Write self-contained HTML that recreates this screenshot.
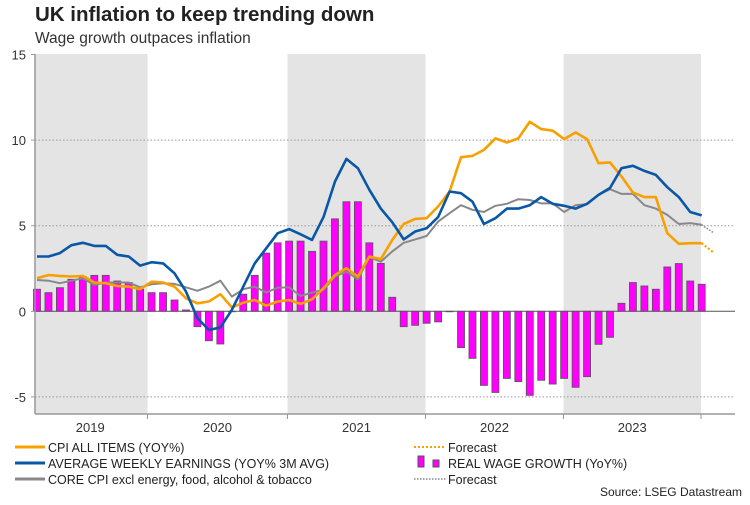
<!DOCTYPE html>
<html><head><meta charset="utf-8"><style>
body{margin:0;background:#fff;width:750px;height:500px;overflow:hidden;font-family:"Liberation Sans",sans-serif}
svg text{font-family:"Liberation Sans",sans-serif}
</style></head><body>
<svg id="chart" width="750" height="500" viewBox="0 0 750 500">
<text x="35" y="21" font-size="20.5" font-weight="bold" fill="#222">UK inflation to keep trending down</text>
<text x="35" y="43" font-size="15.5" fill="#333">Wage growth outpaces inflation</text>
<g id="bands"></g><g id="grid"></g><g id="bars"></g><g id="lines"></g><g id="axes"></g>
<g font-size="12.5" fill="#222">
<line x1="15" y1="447" x2="45" y2="447" stroke="#f7a000" stroke-width="3"/><text x="48" y="452">CPI ALL ITEMS (YOY%)</text>
<line x1="15" y1="463" x2="45" y2="463" stroke="#0a57a6" stroke-width="3"/><text x="48" y="468">AVERAGE WEEKLY EARNINGS (YOY% 3M AVG)</text>
<line x1="15" y1="479" x2="45" y2="479" stroke="#888" stroke-width="3"/><text x="48" y="484">CORE CPI excl energy, food, alcohol &amp; tobacco</text>
<line x1="414" y1="447" x2="446" y2="447" stroke="#f7a000" stroke-width="2" stroke-dasharray="2,2"/><text x="448" y="452">Forecast</text>
<rect x="418" y="456" width="6" height="11" fill="#f0f" stroke="#555"/><rect x="433" y="460" width="6" height="7" fill="#f0f" stroke="#555"/><text x="448" y="468">REAL WAGE GROWTH (YoY%)</text>
<line x1="414" y1="479" x2="446" y2="479" stroke="#888" stroke-width="1.5" stroke-dasharray="1.5,1.5"/><text x="448" y="484">Forecast</text>
</g>
<text x="742" y="496" font-size="12" fill="#222" text-anchor="end">Source: LSEG Datastream</text>
</svg>
<script>
const cpi=[1.93,2.12,2.07,2.03,2.07,1.68,1.64,1.48,1.44,1.29,1.73,1.68,1.44,0.76,0.47,0.57,1.0,0.23,0.5,0.66,0.33,0.57,0.66,0.43,0.7,1.35,2.12,2.51,2.03,3.2,3.05,4.17,5.1,5.4,5.44,6.12,7.0,9.0,9.08,9.43,10.1,9.86,10.1,11.07,10.64,10.55,10.06,10.45,10.06,8.65,8.7,7.88,6.94,6.67,6.67,4.56,3.94,3.98,3.98];
const cpiForecast=[3.98,3.45];
const awe=[3.2,3.2,3.4,3.86,4.0,3.82,3.82,3.3,3.2,2.67,2.87,2.8,2.22,1.15,-0.4,-1.09,-0.94,0.08,1.44,2.8,3.68,4.56,4.8,4.5,4.17,5.5,7.58,8.9,8.36,7.1,6.0,5.2,4.2,4.66,4.85,5.5,7.0,6.9,6.4,5.1,5.44,6.0,6.0,6.2,6.67,6.28,6.16,6.0,6.28,6.8,7.2,8.36,8.5,8.2,7.97,7.25,6.67,5.8,5.6];
const core=[1.83,1.79,1.64,1.79,1.93,1.54,1.68,1.68,1.68,1.4,1.58,1.64,1.6,1.4,1.2,1.44,1.79,0.86,1.29,1.44,1.1,1.38,1.4,0.9,1.09,1.25,2.03,2.32,1.87,3.16,2.9,3.5,4.0,4.2,4.4,5.24,5.73,6.2,5.93,5.8,6.16,6.28,6.55,6.5,6.3,6.3,5.8,6.2,6.26,6.8,7.13,6.86,6.86,6.2,6.0,5.63,5.1,5.15,5.05];
const coreForecast=[5.05,4.6];
const realWage=[1.29,1.09,1.38,1.87,2.03,2.1,2.1,1.77,1.68,1.29,1.09,1.09,0.66,0.08,-0.9,-1.72,-1.91,0,1.0,2.1,3.4,4.0,4.1,4.1,3.5,4.1,5.4,6.4,6.4,4.0,2.8,0.82,-0.9,-0.82,-0.7,-0.62,0,-2.12,-2.75,-4.33,-4.74,-3.92,-4.11,-4.91,-4.03,-4.25,-3.92,-4.44,-3.82,-1.93,-1.52,0.47,1.68,1.48,1.29,2.59,2.79,1.77,1.58];
const yTicks=[-5,0,5,10,15];
const yearLabels=["2019","2020","2021","2022","2023"];
const NS="http://www.w3.org/2000/svg";
const L=35,R=735,T=54,B=414;
const X=i=>37+i*11.46;
const Y=v=>311.3-v*17.12;
function mk(tag,attrs,parent){const e=document.createElementNS(NS,tag);for(const k in attrs)e.setAttribute(k,attrs[k]);document.getElementById(parent).appendChild(e);return e;}
const yb=[147.5,287.5,425.5,563.5,701];
for(let k=0;k<yearLabels.length;k++){
  const x0=k===0?L:yb[k-1], x1=yb[k];
  if(k%2===0){const r=mk('rect',{x:x0,y:T,width:x1-x0,height:B-T,fill:'#e4e4e4'},'bands');
    
    }
  const t=mk('text',{x:(x0+x1)/2+(k===0?-1:0),y:432,'font-size':13,fill:'#333','text-anchor':'middle'},'axes');
  t.textContent=yearLabels[k];
  
  
  const tk=mk('line',{x1:x1,y1:B,x2:x1,y2:B+5,stroke:'#999'},'axes');
  
  
}
yTicks.forEach(v=>{
  if(v!==0&&v!==15){const g=mk('line',{x1:L,y1:Y(v),x2:R,y2:Y(v),stroke:'#999','stroke-dasharray':'1.5,2'},'grid');
    
    }
  const t=mk('text',{x:26,y:Y(v)+5,'font-size':13,fill:'#333','text-anchor':'end'},'axes');
  t.textContent=v;
  
  
  const tk=mk('line',{x1:L-4,y1:Y(v),x2:L,y2:Y(v),stroke:'#999'},'axes');
  
  
});
const ax=mk('line',{x1:L,y1:T,x2:L,y2:B,stroke:'#999','stroke-width':1.5},'axes');


const bx=mk('line',{x1:L,y1:B,x2:R,y2:B,stroke:'#999','stroke-width':1.5},'axes');


const zl=mk('line',{x1:L,y1:Y(0),x2:R,y2:Y(0),stroke:'#555','stroke-width':1},'grid');


realWage.forEach((v,i)=>{
  const y0=Math.min(Y(v),Y(0)),h=Math.abs(Y(v)-Y(0));
  const b=mk('rect',{x:X(i)-3.5,y:y0,width:7,height:Math.max(h,0.5),fill:'#ff00ff',stroke:'#555','stroke-width':0.8},'bars');
  
  
});
function line(arr,off,color,w,dash,name){
  const pts=arr.map((v,i)=>X(i+off).toFixed(1)+','+Y(v).toFixed(1)).join(' ');
  const p=mk('polyline',{points:pts,fill:'none',stroke:color,'stroke-width':w,'stroke-linejoin':'round'},'lines');
  if(dash)p.setAttribute('stroke-dasharray',dash);
  
  
}
line(core,0,'#888',2,null,'core-cpi-line');
line(coreForecast,58,'#888',1.5,'1.5,1.5','core-cpi-forecast');
line(cpi,0,'#f7a000',2.6,null,'cpi-line');
line(cpiForecast,58,'#f7a000',2.2,'2,2','cpi-forecast');
line(awe,0,'#0a57a6',2.6,null,'earnings-line');
</script>
</body></html>
